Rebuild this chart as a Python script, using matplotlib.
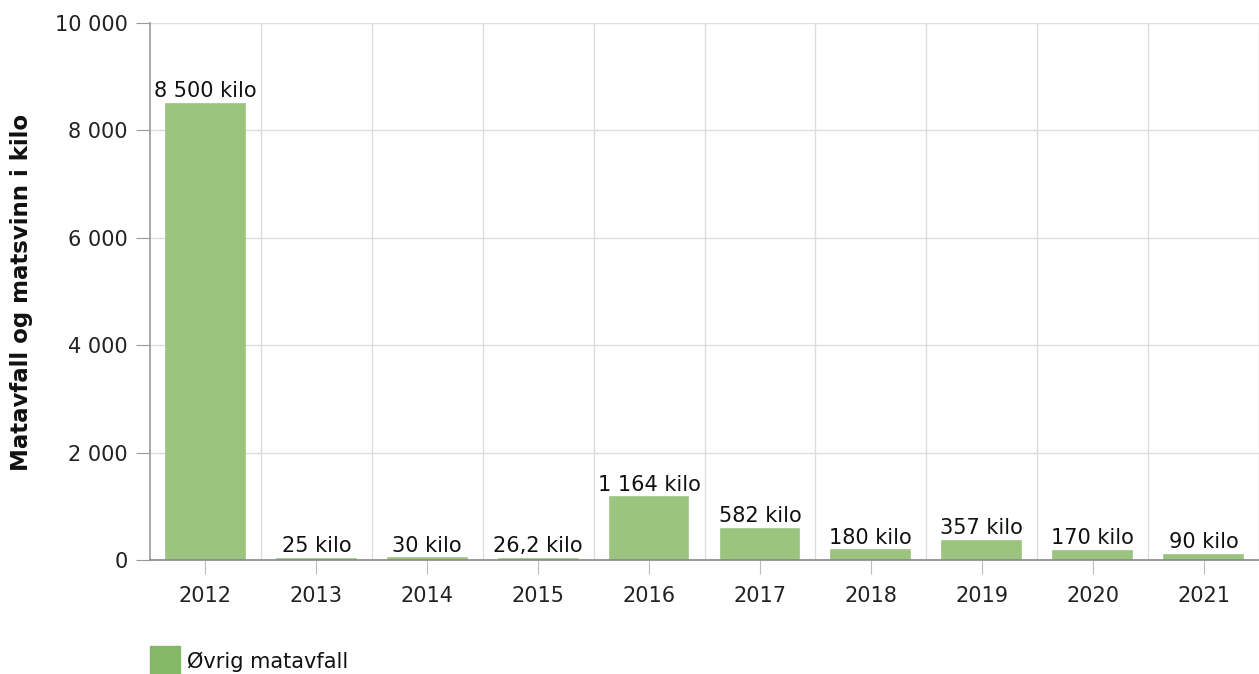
import matplotlib
matplotlib.use("Agg")
import matplotlib.pyplot as plt
from matplotlib.patches import Rectangle

years = ["2012", "2013", "2014", "2015", "2016", "2017", "2018", "2019", "2020", "2021"]
values = [8500, 25, 30, 26.2, 1164, 582, 180, 357, 170, 90]
labels = ["8 500 kilo", "25 kilo", "30 kilo", "26,2 kilo", "1 164 kilo", "582 kilo",
          "180 kilo", "357 kilo", "170 kilo", "90 kilo"]
yticks = [0, 2000, 4000, 6000, 8000, 10000]
ytick_labels = ["0", "2 000", "4 000", "6 000", "8 000", "10 000"]
series_name = "Øvrig matavfall"
ylabel = "Matavfall og matsvinn i kilo"

W, H = 1259, 674
fig = plt.figure(figsize=(W / 100, H / 100), dpi=100)
ax = fig.add_axes([150 / W, 1 - 560 / H, (1259 - 150) / W, (560 - 23) / H])

fs = 15
xs = list(range(len(years)))
ax.bar(xs, values, width=0.71, color="#9BC57F", edgecolor="#9BC57F",
       linewidth=1.2, zorder=2)
ax.set_xlim(-0.5, len(years) - 0.5)
ax.set_ylim(0, 10000)

for x, v, lab in zip(xs, values, labels):
    ax.annotate(lab, (x, v), xytext=(0, 2), textcoords="offset points",
                ha="center", va="bottom", fontsize=fs, color="#111111", zorder=3)

ax.set_yticks(yticks)
ax.set_yticklabels(ytick_labels, fontsize=fs, color="#222222")
ax.set_xticks(xs)
ax.set_xticklabels(years, fontsize=fs, color="#222222")

# grid
for y in yticks[1:]:
    ax.axhline(y, color="#DDDDDD", lw=1, zorder=0)
for b in range(1, len(years) + 1):
    ax.axvline(b - 0.5, color="#DDDDDD", lw=1, zorder=0)

for s in ["top", "right"]:
    ax.spines[s].set_visible(False)
ax.spines["left"].set_color("#999999")
ax.spines["bottom"].set_color("#888888")
ax.spines["left"].set_linewidth(1.2)
ax.spines["bottom"].set_linewidth(1.2)
ax.spines["bottom"].set_zorder(3)
ax.tick_params(axis="y", length=10, color="#999999", pad=6)
ax.tick_params(axis="x", length=10, color="#BBBBBB", pad=9)

fig.text(22 / W, 1 - 292 / H, ylabel, rotation=90, ha="center", va="center",
         fontsize=16.5, fontweight="bold", color="#111111")

# legend
fig.patches.append(Rectangle((150 / W, 1 - 674 / H), 30 / W, 28 / H,
                             transform=fig.transFigure, color="#82B866"))
fig.text(187 / W, 1 - 662 / H, series_name, ha="left", va="center", fontsize=fs, color="#111111")

fig.savefig("out.png", dpi=100)
